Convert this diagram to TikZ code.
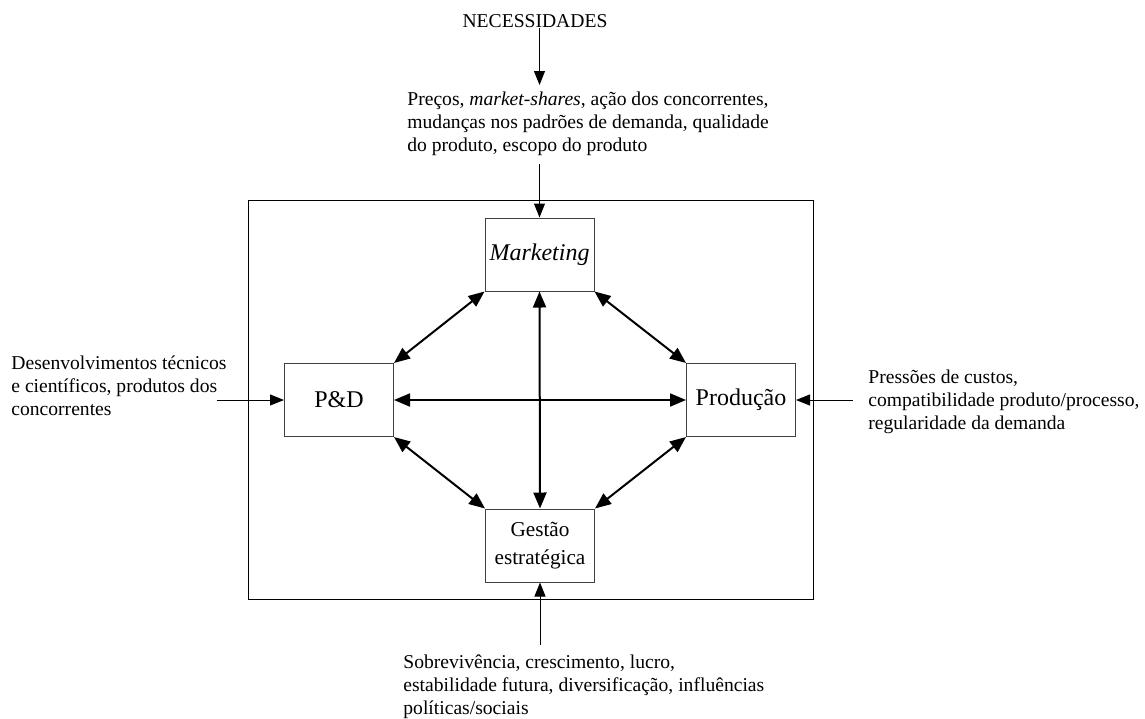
\documentclass[tikz,border=0pt]{standalone}
\usepackage{fontspec}
\setmainfont{Liberation Serif}
\usetikzlibrary{arrows.meta}

\begin{document}
\begin{tikzpicture}[x=0.5pt, y=-0.5pt,
    bloco/.style={draw=black!75, line width=0.5pt, minimum width=54.5pt, minimum height=36.5pt, inner sep=1pt, align=center, font=\fontsize{12}{14}\selectfont},
    fluxo/.style={line width=1pt, {Triangle[length=8pt,width=6.5pt]}-{Triangle[length=8pt,width=6.5pt]}},
    entrada/.style={line width=0.5pt, -{Triangle[length=7pt,width=5.5pt]}},
    texto/.style={align=left, inner sep=0pt, font=\fontsize{9.8}{11.5}\selectfont}]
    \useasboundingbox (0,0) rectangle (1145,718);

    % Empresa
    \draw[line width=0.5pt] (248,200) rectangle (813,599);

    % Areas funcionais
    \node[bloco] (mkt) at (539.5,254.5) {\textit{Marketing}};
    \node[bloco] (pd) at (339,400) {P\&D};
    \node[bloco] (prod) at (741,400) {Produção};
    \node[bloco, font=\fontsize{10.6}{14}\selectfont] (gest) at (540,545.5) {Gestão\\estratégica};

    % Influencias externas
    \node[texto] (nec) at (535,21) {NECESSIDADES};
    \node[texto, anchor=north west] (dem) at (407,91) {Preços, \textit{market-shares}, ação dos concorrentes,\\mudanças nos padrões de demanda, qualidade\\do produto, escopo do produto};
    \node[texto, anchor=north west] (tec) at (11,355) {Desenvolvimentos técnicos\\e científicos, produtos dos\\concorrentes};
    \node[texto, anchor=north west] (cus) at (868,369) {Pressões de custos,\\compatibilidade produto/processo,\\regularidade da demanda};
    \node[texto, anchor=north west] (obj) at (403,654) {Sobrevivência, crescimento, lucro,\\estabilidade futura, diversificação, influências\\políticas/sociais};

    \coordinate (e1) at (217,400);
    \coordinate (e2) at (853,400);
    \coordinate (e3) at (540,645);

    % Entradas
    \draw[entrada] (nec.south -| mkt) -- ([yshift=3pt]dem.north -| mkt);
    \draw[entrada] ([yshift=-4pt]dem.south -| mkt) -- (mkt.north);
    \draw[entrada] (e1) -- (pd.west);
    \draw[entrada] (e2) -- (prod.east);
    \draw[entrada] (e3) -- (gest.south);

    % Relacoes internas
    \draw[fluxo] (mkt.south west) -- (pd.north east);
    \draw[fluxo] (mkt.south east) -- (prod.north west);
    \draw[fluxo] (pd.south east) -- (gest.north west);
    \draw[fluxo] (prod.south west) -- (gest.north east);
    \draw[fluxo] (mkt.south) -- (gest.north);
    \draw[fluxo] (pd.east) -- (prod.west);
\end{tikzpicture}
\end{document}
